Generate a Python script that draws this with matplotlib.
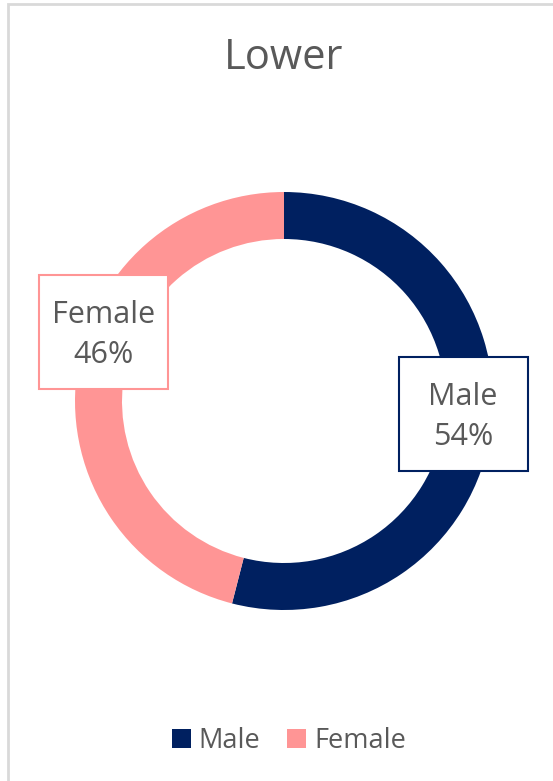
import matplotlib
matplotlib.use("Agg")
from matplotlib import pyplot as plt
from matplotlib.patches import Rectangle, Patch

plt.rcParams['font.family'] = ['Open Sans', 'DejaVu Sans']

# data
title = "Lower"
categories = ["Male", "Female"]
shares = [54, 46]
colors = ["#002060", "#FF9595"]
text_color = "#595959"

W, H = 553, 781
fig = plt.figure(figsize=(W / 100, H / 100), dpi=100)
ax = fig.add_axes([0, 0, 1, 1])

# donut (pixel coords, y up)
cx, cy, r_out, ring = 284, H - 401, 209, 47
ax.pie(shares, colors=colors, startangle=90, counterclock=False,
       center=(cx, cy), radius=r_out,
       wedgeprops=dict(width=ring, linewidth=0))

# light gray chart border (top + left visible)
ax.add_patch(Rectangle((8, -20), W + 20, H - 4 + 20, fill=False,
                       edgecolor="#D9D9D9", linewidth=2))

# data label boxes
label_boxes = {"Female": (103.5, H - 332), "Male": (463, H - 414)}
box_w, box_h = 129, 114
for cat, val, col in zip(categories, shares, colors):
    bx, by = label_boxes[cat]
    ax.add_patch(Rectangle((bx - box_w / 2, by - box_h / 2), box_w, box_h,
                           facecolor="white", edgecolor=col, linewidth=1.5, zorder=3))
    ax.text(bx, by - 3, f"{cat}\n{val}%", ha="center", va="center", fontsize=22,
            color=text_color, linespacing=1.45, zorder=4)

ax.text(cx, H - 58, title, ha="center", va="center", fontsize=30, color=text_color)

ax.set_xlim(0, W)
ax.set_ylim(0, H)
ax.set_aspect("auto")
ax.axis("off")

handles = [Patch(facecolor=c, edgecolor="none") for c in colors]
fig.legend(handles, categories, loc="center", bbox_to_anchor=(289 / W, 1 - 741 / H),
           ncol=2, frameon=False, fontsize=19.5, handlelength=0.7, handleheight=0.7,
           handletextpad=0.3, columnspacing=1.0, labelcolor=text_color)

fig.savefig("out.png", dpi=100, facecolor="white")
